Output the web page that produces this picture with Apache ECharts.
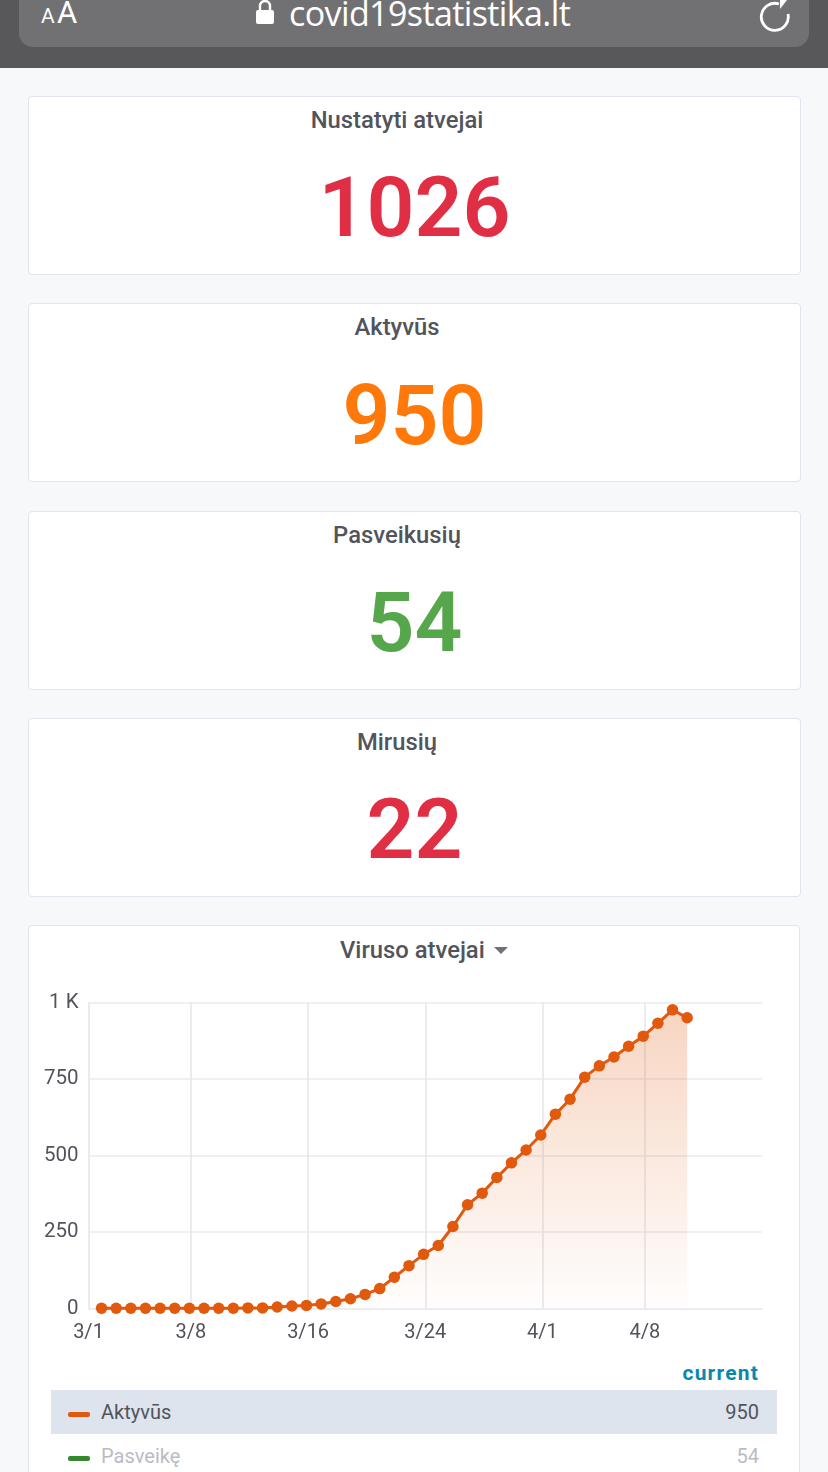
<!DOCTYPE html>
<html lang="lt">
<head>
<meta charset="utf-8">
<style>
html,body{margin:0;padding:0;background:#f7f8fa;width:828px;height:1472px;overflow:hidden;font-family:Roboto,sans-serif;color:#52545c}
#topbar{position:absolute;left:0;top:0;width:828px;height:68px;background:#58585a}
#urlbox{position:absolute;left:19px;top:-20px;width:790px;height:67px;background:#717173;border-radius:14px}
.t{position:absolute;white-space:nowrap}
.card{position:absolute;left:27.5px;width:771px;height:177px;background:#fff;border:1.5px solid #e2e5ee;border-radius:4px}
.ct{position:absolute;left:28px;width:738px;text-align:center;font-size:23.8px;font-weight:500;color:#52545c;white-space:nowrap}
.cv{position:absolute;left:28px;width:773px;text-align:center;font-size:84px;font-weight:600;line-height:84px;white-space:nowrap}
#chartcard{position:absolute;left:27.5px;top:924.5px;width:770px;height:560px;background:#fff;border:1.5px solid #e2e5ee;border-radius:4px}
#chart{position:absolute;left:0;top:980px;width:828px;height:380px}
#rowA{position:absolute;left:51px;top:1390px;width:726px;height:44px;background:#dde4ed}
.dash{position:absolute;left:68px;width:22px;height:5px;border-radius:2px}
</style>
</head>
<body>
<div id="topbar"><div id="urlbox"></div></div>
<div class="t" style="left:41px;top:-2px;color:#fff;font-size:21px;line-height:36px">A</div>
<div class="t" style="left:57px;top:-4px;color:#fff;font-size:31px;line-height:34px">A</div>
<svg style="position:absolute;left:255px;top:0" width="20" height="26" viewBox="0 0 20 26"><path d="M3 10h14a2 2 0 0 1 2 2v10a2 2 0 0 1-2 2H3a2 2 0 0 1-2-2V12a2 2 0 0 1 2-2z" fill="#fff"/><path d="M5 11V6a5 5 0 0 1 10 0v5" fill="none" stroke="#fff" stroke-width="2.4"/></svg>
<div class="t" style="left:289px;top:-6px;color:#fff;font-size:34px;line-height:38px;font-family:'Open Sans',sans-serif;letter-spacing:-.6px">covid19statistika.lt</div>
<svg style="position:absolute;left:756px;top:0" width="38" height="34" viewBox="0 0 38 34"><path d="M23 4 A13.5 13.5 0 1 0 32 14" fill="none" stroke="#fff" stroke-width="2.8"/><path d="M24 0 L31 0 L24 9 Z" fill="#fff"/></svg>

<div class="card" style="top:95.5px"></div>
<div class="card" style="top:302.5px"></div>
<div class="card" style="top:510.5px"></div>
<div class="card" style="top:717.5px"></div>
<div id="statTexts"></div>

<div id="chartcard"></div>
<div class="t" style="left:340px;top:936px;font-size:23.8px;font-weight:500;line-height:28px;color:#52545c">Viruso atvejai</div>
<div style="position:absolute;left:494px;top:947px;width:0;height:0;border-left:7px solid transparent;border-right:7px solid transparent;border-top:7px solid #70727a"></div>
<div id="chart"></div>

<div class="t" style="right:69px;top:1361px;font-size:21px;font-weight:700;line-height:24px;color:#0b87ad;letter-spacing:1.2px">current</div>
<div id="rowA"></div>
<div id="legendRows"></div>

<script src="https://cdn.jsdelivr.net/npm/echarts@6/dist/echarts.min.js"></script>
<script>
// ---------- data ----------
const statTitles = ["Nustatyti atvejai", "Aktyvūs", "Pasveikusių", "Mirusių"];
const statValues = ["1026", "950", "54", "22"];
const statColors = ["#e02f44", "#ff780a", "#56a64b", "#e02f44"];
const statTitleTops = [106, 313, 521, 728];
const statValueTops = [166, 374, 581, 788];

const seriesName = "Aktyvūs";
const active = [1,1,1,1,1,1,1,1,1,1,2,2,5,8,10,15,23,32,46,65,102,140,177,206,268,339,377,428,476,518,567,635,684,756,793,822,857,890,932,976,950];
const sampleDays = [0.89,1.89,2.89,3.89,4.89,5.89,6.89,7.89,8.89,9.89,10.89,11.89,12.89,13.89,14.89,15.89,16.89,17.89,18.89,19.89,20.89,21.89,22.89,23.89,24.89,25.89,26.89,27.89,28.89,29.89,30.89,31.89,32.89,33.89,34.89,35.89,36.89,37.89,38.89,39.89,40.89];
const xTickDays = [0, 7, 15, 23, 31, 38];
const xTickLabels = ["3/1", "3/8", "3/16", "3/24", "4/1", "4/8"];

const legendNames = ["Aktyvūs", "Pasveikę"];
const legendValues = ["950", "54"];
const legendColors = ["#e0590c", "#37872d"];
const legendTextColors = ["#52545c", "#b9bcc4"];
const legendTops = [1412, 1456];

// ---------- HTML cards ----------
const st = document.getElementById('statTexts');
statTitles.forEach((s, i) => {
  st.insertAdjacentHTML('beforeend',
    `<div class="ct" style="top:${statTitleTops[i]}px;line-height:28px">${s}</div>` +
    `<div class="cv" style="top:${statValueTops[i]}px;color:${statColors[i]}">${statValues[i]}</div>`);
});
const lr = document.getElementById('legendRows');
legendNames.forEach((s, i) => {
  lr.insertAdjacentHTML('beforeend',
    `<div class="dash" style="top:${legendTops[i]}px;background:${legendColors[i]}"></div>` +
    `<div class="t" style="left:101px;top:${legendTops[i]-12}px;font-size:20px;line-height:24px;color:${legendTextColors[i]}">${s}</div>` +
    `<div class="t" style="right:69px;top:${legendTops[i]-12}px;font-size:20px;line-height:24px;color:${legendTextColors[i]}">${legendValues[i]}</div>`);
});

// ---------- chart ----------
const points = active.map((v, i) => [sampleDays[i], v]);
const chart = echarts.init(document.getElementById('chart'), null, {renderer: 'canvas'});
chart.setOption({
  animation: false,
  grid: {left: 88.5, right: 66, top: 22.5, bottom: 51.5},
  xAxis: {
    type: 'value',
    min: 0,
    max: 46,
    axisLine: {show: true, lineStyle: {color: '#e9ebf0', width: 1.5}},
    axisTick: {show: false, customValues: xTickDays},
    splitLine: {show: true, lineStyle: {color: '#e4e6eb', width: 1.5}},
    axisLabel: {
      customValues: xTickDays,
      color: '#52545c', fontSize: 20, fontFamily: 'Roboto', margin: 14,
      formatter: v => xTickLabels[xTickDays.indexOf(v)]
    }
  },
  yAxis: {
    type: 'value', min: 0, max: 1000, interval: 250,
    axisLine: {show: true, lineStyle: {color: '#e9ebf0', width: 1.5}},
    axisTick: {show: false},
    splitLine: {show: true, lineStyle: {color: '#e9ebf0', width: 1.5}},
    axisLabel: {
      color: '#52545c', fontSize: 20.5, fontFamily: 'Roboto', margin: 10,
      formatter: v => v === 1000 ? '1 K' : String(v)
    }
  },
  series: [{
    name: seriesName,
    type: 'line',
    data: points,
    symbol: 'circle',
    symbolSize: 11.5,
    showSymbol: true,
    showAllSymbol: true,
    itemStyle: {color: '#e0590c'},
    lineStyle: {color: '#e0590c', width: 3},
    areaStyle: {
      color: new echarts.graphic.LinearGradient(0, 0, 0, 1, [
        {offset: 0, color: 'rgba(224,89,12,0.36)'},
        {offset: 1, color: 'rgba(224,89,12,0.01)'}
      ])
    }
  }]
});
</script>
</body>
</html>
